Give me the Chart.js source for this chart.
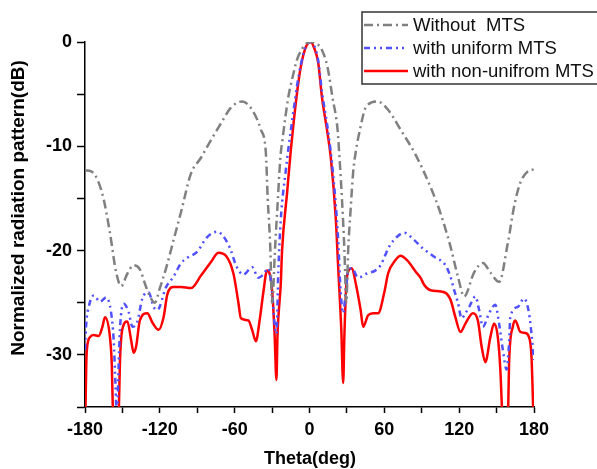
<!DOCTYPE html>
<html>
<head>
<meta charset="utf-8">
<script src="https://cdn.jsdelivr.net/npm/chart.js@4.4.1/dist/chart.umd.min.js"></script>
<style>
  html, body { margin: 0; padding: 0; background: #fff; }
  #wrap { width: 597px; height: 469px; }
</style>
</head>
<body>
<div id="wrap"><canvas id="myChart" width="597" height="469"></canvas></div>
<script>
// Without MTS (grey dash-dot)
const thetaA = [-180,-175,-170,-165,-160,-155,-151,-146,-141,-136,-131,-127,-124,-120,-115,-109,-103,-95,-87,-79,-71,-63,-54,-45,-39,-35,-33.5,-31.5,-30,-27.5,-25.7,-23.3,-21.7,-17,-14,-10,-5.6,-2,2,5,8.8,14.4,18.4,22.5,24,26,28,29.5,31,33,35,37,41,45,54.5,63,73,85,97,105,113,119,124,132,139,145,152,159,164,169,175,180];
const dbA = [-12.3,-12.4,-13.2,-15.1,-18.3,-22.1,-23.4,-22.2,-21.4,-21.8,-23.5,-24.6,-25,-23.6,-21.7,-19,-16.3,-12.6,-11.1,-9.4,-7.8,-6.3,-5.7,-6.7,-8.4,-10.6,-15,-19.5,-25,-19.5,-15.8,-11,-9.4,-5.3,-3.6,-1.7,-0.6,-0.1,0,-0.2,-0.5,-2.4,-5.3,-8.4,-11,-15,-20,-25,-20,-16,-12.5,-10.6,-8.1,-6.3,-5.7,-6.5,-8.4,-10.8,-13.9,-16.4,-19.6,-22.5,-24.4,-22.1,-21.2,-22.1,-23,-19.3,-15.8,-13.5,-12.4,-12.2];

// with uniform MTS (blue dash-dot-dot)
const thetaB = [-180,-179,-177,-173,-168,-163,-159,-157,-155.5,-154.5,-153,-152,-149,-145,-142,-138,-134,-129,-125,-122,-115,-109,-103,-98,-90,-82,-74,-67,-63,-59,-53,-46,-41,-37,-33,-30,-28,-26.5,-25,-23,-19,-17,-15,-12.8,-10,-7,-3,1,4,7,10,14,17,19,21,23,25,27,29,31,34,39,46,53,57,64,70,76,84,91,100,109,113,116,119,122,125,128,133,136,139,144,149,152,155,158,160,161,167,172,176,178,180];
const dbB = [-29.5,-27,-25.4,-24.3,-24.9,-24.5,-26,-28.6,-33,-36,-31,-27.6,-25.1,-25.9,-27.3,-26.8,-24.6,-24,-25.4,-25.7,-23.5,-22.5,-21.2,-20.7,-20.1,-18.7,-18.2,-19,-20,-21.4,-22.3,-21.6,-22.6,-22.3,-21.7,-24,-27,-28,-22,-17,-12.3,-10.3,-8.5,-6.6,-4.2,-2.2,-0.4,0,-0.4,-1.8,-4.8,-7.8,-10.5,-12.8,-15.5,-19,-24,-26,-24,-22,-21.7,-22.6,-22.2,-21.9,-21.4,-19.6,-18.7,-18.3,-19,-19.8,-20.6,-21.4,-22.5,-23.8,-25,-26.5,-26,-25.4,-24.4,-25.7,-27.3,-26,-25.2,-27,-29.5,-31.4,-28.9,-26.4,-25.4,-24.6,-26,-28,-30.5];

// with non-unifrom MTS (red solid)
const thetaC = [-180,-179,-178.5,-176,-173,-169,-166,-164,-160,-158.5,-157.5,-155,-153,-152,-150,-146,-143,-141,-139,-136,-130,-126,-121,-117,-114,-109,-103,-95,-87,-79,-73,-67,-61,-57,-55,-49,-46,-43,-40,-37,-34,-30,-28,-26.5,-25.7,-23,-22,-18,-15,-12.8,-9.7,-7,-3,1,3.5,7,10,14,17,21,23,25.5,27,28,30,34,37,41,43,47,51,55,60,63,69,73,78,85,89,92,97,108,113,117,121,125,131,135,138,141,145,148,151,153,155,157,159,160,163,165,169,173,176,178,180];
const dbC = [-38,-31,-29.5,-28.3,-28.1,-28.2,-27.3,-26.4,-28.3,-31,-36,-40,-36,-30.8,-27.5,-26.8,-28.6,-29.8,-29.2,-26.7,-26,-26.9,-27.6,-26.4,-24.2,-23.5,-23.5,-23.6,-22.4,-21.1,-20.2,-20.5,-22.2,-25,-26.5,-26.7,-27.6,-28.7,-26.7,-24,-21.9,-23.8,-28,-32.4,-28.3,-23.1,-20,-14.5,-10.4,-7.8,-4.6,-2.4,-0.5,0,-0.5,-2,-5.3,-8.4,-11,-16.8,-21.6,-27.6,-32.7,-28,-22.5,-21.7,-23.1,-25.7,-27.3,-26.2,-26,-26,-24,-22.2,-20.9,-20.5,-20.9,-22,-22.6,-23.3,-23.8,-24,-24.7,-26.4,-27.8,-27,-26,-26.7,-29.2,-30.7,-28.3,-27,-28.3,-31.4,-37,-40,-37,-30.8,-27.3,-26.7,-27.8,-27.9,-28.3,-30.2,-38];

const seriesLabels = ['Without  MTS', 'with uniform MTS', 'with non-unifrom MTS'];
const xTicks = [-180, -120, -60, 0, 60, 120, 180];
const yTicks = [-30, -20, -10, 0];

const toPoints = (xs, ys) => xs.map((x, i) => ({ x, y: ys[i] }));
const FONT = 'Arial, "Liberation Sans", sans-serif';

const customLegend = {
  id: 'customLegend',
  afterDraw(chart) {
    const { ctx } = chart;
    ctx.save();
    ctx.strokeStyle = '#333';
    ctx.lineWidth = 1.5;
    ctx.setLineDash([]);
    ctx.strokeRect(362, 12, 240, 72);
    ctx.font = '18.5px ' + FONT;
    ctx.textBaseline = 'middle';
    ctx.fillStyle = '#111';
    const rows = [25, 48, 71];
    chart.data.datasets.forEach((ds, i) => {
      ctx.strokeStyle = ds.borderColor;
      ctx.lineWidth = ds.borderWidth;
      ctx.setLineDash(ds.borderDash || []);
      ctx.beginPath();
      ctx.moveTo(364, rows[i]);
      ctx.lineTo(408, rows[i]);
      ctx.stroke();
      ctx.fillText(ds.label, 413, rows[i] + 1);
    });
    ctx.restore();
  }
};

const axisTitles = {
  id: 'axisTitles',
  afterDraw(chart) {
    const { ctx } = chart;
    ctx.save();
    ctx.fillStyle = '#000';
    ctx.textAlign = 'center';
    ctx.textBaseline = 'middle';
    ctx.font = 'bold 18px ' + FONT;
    ctx.fillText('Theta(deg)', 310, 459);
    ctx.font = 'bold 19px ' + FONT;
    ctx.translate(19, 208);
    ctx.rotate(-Math.PI / 2);
    ctx.fillText('Normalized radiation pattern(dB)', 0, 0);
    ctx.restore();
  }
};

new Chart(document.getElementById('myChart').getContext('2d'), {
  type: 'line',
  data: {
    datasets: [{
      label: seriesLabels[0],
      data: toPoints(thetaA, dbA),
      borderColor: '#808080',
      borderWidth: 2.5,
      borderDash: [9, 4, 2, 4]
    }, {
      label: seriesLabels[1],
      data: toPoints(thetaB, dbB),
      borderColor: '#5050ff',
      borderWidth: 2.5,
      borderDash: [6, 4, 2, 4, 2, 4]
    }, {
      label: seriesLabels[2],
      data: toPoints(thetaC, dbC),
      borderColor: '#ff0000',
      borderWidth: 2.5
    }]
  },
  options: {
    responsive: false,
    animation: false,
    elements: {
      point: { radius: 0 },
      line: { cubicInterpolationMode: 'monotone', borderCapStyle: 'butt' }
    },
    layout: { padding: { top: 42, right: 63, left: 0, bottom: 0 } },
    plugins: {
      legend: { display: false },
      tooltip: { enabled: false }
    },
    scales: {
      x: {
        type: 'linear',
        min: -180,
        max: 180,
        afterFit(s) { s.height = 62; },
        ticks: {
          stepSize: 30,
          autoSkip: false,
          maxRotation: 0,
          padding: 6,
          color: '#000',
          font: { family: FONT, size: 18, weight: 'bold' },
          callback: v => (xTicks.includes(v) ? String(v) : '')
        },
        grid: { drawOnChartArea: false, tickLength: 6, tickColor: '#000', tickWidth: 1.5 },
        border: { color: '#000', width: 1.5 }
      },
      y: {
        min: -35,
        max: 0,
        afterFit(s) { s.width = 85; },
        ticks: {
          stepSize: 5,
          autoSkip: false,
          padding: 5,
          color: '#000',
          font: { family: FONT, size: 18, weight: 'bold' },
          callback: v => (yTicks.includes(v) ? String(v) : '')
        },
        grid: { drawOnChartArea: false, tickLength: 8, tickColor: '#000', tickWidth: 1.5 },
        border: { color: '#000', width: 1.5 }
      }
    }
  },
  plugins: [customLegend, axisTitles]
});
</script>
</body>
</html>
